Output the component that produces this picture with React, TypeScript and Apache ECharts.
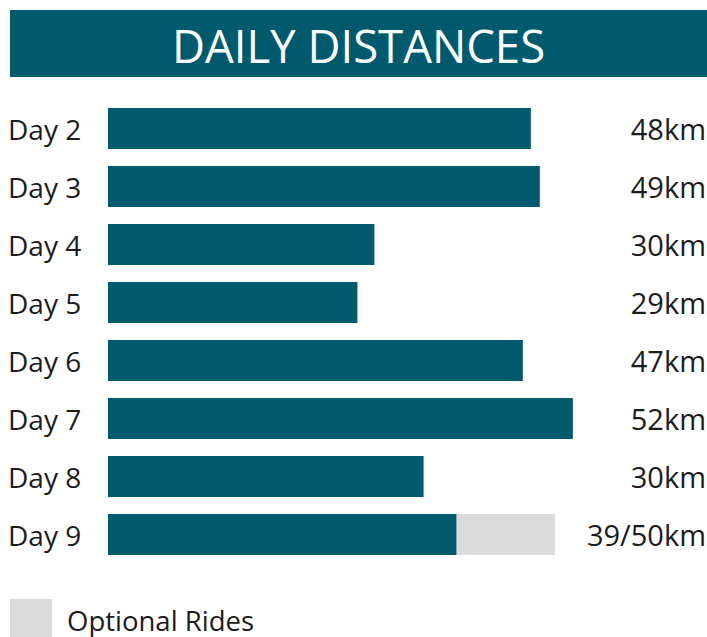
import React, { useEffect, useRef } from "react";
import * as echarts from "echarts";

const days = ["Day 2", "Day 3", "Day 4", "Day 5", "Day 6", "Day 7", "Day 8", "Day 9"];
const mainKm = [47.3, 48.3, 29.8, 27.9, 46.4, 52, 35.3, 39];
const optionalKm = [0, 0, 0, 0, 0, 0, 0, 11];
const valueLabels = ["48km", "49km", "30km", "29km", "47km", "52km", "30km", "39/50km"];
const title = "DAILY DISTANCES";
const legendLabel = "Optional Rides";

const TEAL = "#005a6e";
const GRAY = "#dadada";
const TEXT = "#1c1c1c";
const FONT = "'Open Sans', Lato, sans-serif";

export default function App() {
  const ref = useRef<HTMLDivElement>(null);
  useEffect(() => {
    if (!ref.current) return;
    const chart = echarts.init(ref.current, null, { renderer: "svg" });
    const cats = days.slice().reverse();
    const main = mainKm.slice().reverse();
    const opt = optionalKm.slice().reverse();
    const vals = valueLabels.slice().reverse();
    chart.setOption({
      animation: false,
      grid: {
        left: 108,
        top: 99.5,
        width: 536.4,
        height: 464,
        containLabel: false,
        outerBoundsMode: "none",
      },
      xAxis: { type: "value", min: 0, max: 60, show: false },
      yAxis: [
        {
          type: "category",
          data: cats,
          position: "left",
          axisLine: { show: false },
          axisTick: { show: false },
          axisLabel: { align: "left", margin: 100, color: TEXT, fontSize: 28, fontFamily: FONT },
        },
        {
          type: "category",
          data: vals,
          position: "right",
          axisLine: { show: false },
          axisTick: { show: false },
          axisLabel: { align: "right", margin: 706 - 644.4, color: TEXT, fontSize: 29, fontFamily: FONT },
        },
      ],
      series: [
        {
          type: "bar",
          name: "Main",
          stack: "km",
          data: main,
          barWidth: 41,
          itemStyle: { color: TEAL },
        },
        {
          type: "bar",
          name: legendLabel,
          stack: "km",
          data: opt,
          barWidth: 41,
          itemStyle: { color: GRAY },
        },
      ],
      graphic: [
        { type: "rect", shape: { x: 10, y: 10, width: 697, height: 67 }, style: { fill: TEAL } },
        {
          type: "text",
          x: 358.5,
          y: 45,
          style: {
            text: title,
            fill: "#ffffff",
            fontSize: 45.5,
            fontFamily: FONT,
            fontWeight: "normal",
            align: "center",
            verticalAlign: "middle",
          },
        },
        { type: "rect", shape: { x: 10, y: 599, width: 42, height: 40 }, style: { fill: GRAY } },
        {
          type: "text",
          x: 67,
          y: 620,
          style: {
            text: legendLabel,
            fill: TEXT,
            fontSize: 27.5,
            lineHeight: 28,
            fontFamily: FONT,
            align: "left",
            verticalAlign: "middle",
          },
        },
      ],
    });
    return () => chart.dispose();
  }, []);
  return <div ref={ref} style={{ width: 707, height: 637, position: "absolute", left: 0, top: 0 }} />;
}
